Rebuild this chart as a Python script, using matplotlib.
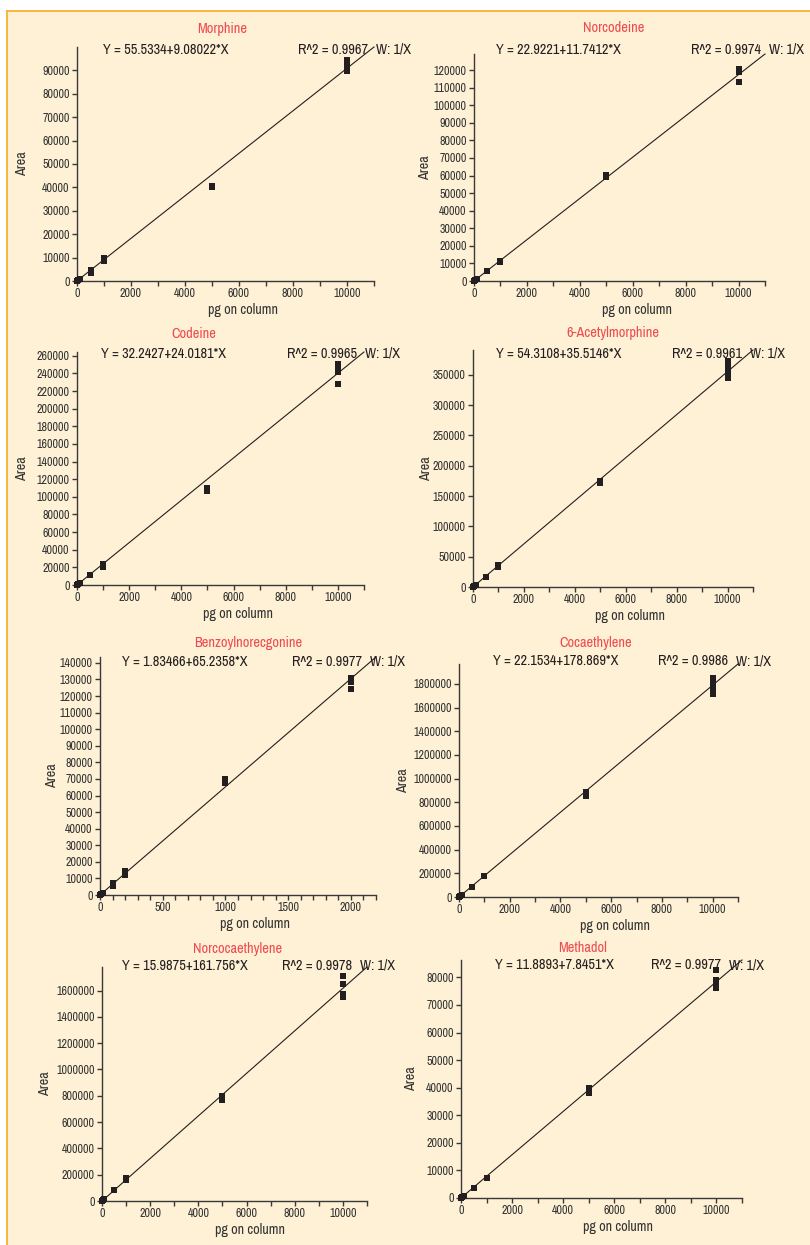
import matplotlib.pyplot as plt
from matplotlib import font_manager
from matplotlib.ticker import MultipleLocator, FuncFormatter
from matplotlib.lines import Line2D
from matplotlib.patches import Rectangle

W, H = 810, 1245

# pick a narrow face if one is installed, else Liberation Sans
narrow = [f for f in font_manager.fontManager.ttflist
          if ('Narrow' in f.name or 'Condensed' in f.name) and f.style == 'normal'
          and f.weight in (400, 'normal')]
if narrow:
    FONT = font_manager.FontProperties(fname=narrow[0].fname)
else:
    FONT = font_manager.FontProperties(family='Liberation Sans')

# calibration data
compounds = ['Morphine', 'Norcodeine', 'Codeine', '6-Acetylmorphine',
             'Benzoylnorecgonine', 'Cocaethylene', 'Norcocaethylene', 'Methadol']
intercepts = ['55.5334', '22.9221', '32.2427', '54.3108',
              '1.83466', '22.1534', '15.9875', '11.8893']
slopes = ['9.08022', '11.7412', '24.0181', '35.5146',
          '65.2358', '178.869', '161.756', '7.8451']
r_squared = ['0.9967', '0.9974', '0.9965', '0.9961',
             '0.9977', '0.9986', '0.9978', '0.9977']
x_max = [11000, 11000, 11000, 11000, 2200, 11000, 11000, 11000]

morphine_x = [10, 10, 50, 50, 100, 100, 500, 500, 1000, 1000, 5000, 5000, 10000, 10000, 10000]
morphine_y = [120, 90, 480, 430, 950, 880, 3500, 4500, 8600, 9800, 40000, 40600, 89500, 92000, 94300]

norcodeine_x = [10, 50, 100, 100, 500, 1000, 1000, 5000, 5000, 10000, 10000, 10000]
norcodeine_y = [130, 600, 1150, 1250, 5700, 10600, 11100, 59000, 60400, 113000, 118800, 120600]

codeine_x = [10, 50, 100, 100, 500, 1000, 1000, 5000, 5000, 10000, 10000, 10000, 10000]
codeine_y = [260, 1250, 2400, 2500, 11000, 20000, 23300, 106800, 109600, 227500, 241000, 246000, 250500]

acetylmorphine_x = [10, 50, 100, 100, 500, 1000, 1000, 5000, 5000, 10000, 10000, 10000, 10000]
acetylmorphine_y = [380, 1800, 3600, 3800, 16000, 33500, 37000, 170800, 174500, 344000, 352000, 362000, 372000]

benzoyl_x = [2, 10, 20, 20, 100, 100, 200, 200, 1000, 1000, 2000, 2000, 2000]
benzoyl_y = [150, 650, 1300, 1350, 5500, 7000, 11900, 14300, 67800, 70000, 124200, 128600, 131000]

cocaethylene_x = [10, 50, 100, 100, 500, 1000, 1000, 5000, 5000, 10000, 10000, 10000, 10000]
cocaethylene_y = [1800, 9000, 17500, 18500, 82000, 174000, 180000, 852000, 890000,
                  1717000, 1760000, 1800000, 1850000]

norcoca_x = [10, 50, 100, 100, 500, 1000, 1000, 5000, 5000, 10000, 10000, 10000, 10000]
norcoca_y = [1600, 8000, 16000, 17000, 84000, 160000, 174000, 770000, 800000,
             1550000, 1575000, 1653000, 1712000]

methadol_x = [10, 50, 100, 100, 500, 1000, 1000, 5000, 5000, 10000, 10000, 10000, 10000]
methadol_y = [80, 400, 780, 820, 3600, 7100, 7400, 38000, 40000, 76200, 77600, 78900, 82700]

points = [(morphine_x, morphine_y), (norcodeine_x, norcodeine_y),
          (codeine_x, codeine_y), (acetylmorphine_x, acetylmorphine_y),
          (benzoyl_x, benzoyl_y), (cocaethylene_x, cocaethylene_y),
          (norcoca_x, norcoca_y), (methadol_x, methadol_y)]

# layout in pixels: axes (left, right, top, bottom)
axes_px = [(77, 374, 47, 281), (474, 765, 54, 281),
           (77, 364, 352, 585), (473, 753, 350, 587),
           (100, 376, 657, 895), (459, 738, 664, 897),
           (102, 367, 967, 1201), (461, 742, 960, 1198)]
title_px = [(222, 29), (614, 28), (194, 334), (613, 333),
            (248, 643), (596, 643), (238, 949), (583, 948)]
eq_px = [(103, 50), (496, 50), (101, 354), (496, 354),
         (122, 662), (493, 661), (122, 966), (495, 965)]
r2_x = [298, 691, 287, 672, 292, 658, 282, 651]
ylab_off = [55, 49, 55, 47, 48, 56, 57, 50]
y_step = [10000, 10000, 20000, 50000, 10000, 200000, 200000, 10000]
x_major = [2000, 2000, 2000, 2000, 500, 2000, 2000, 2000]
x_minor = [1000, 1000, 1000, 1000, 100, 1000, 1000, 1000]

INK = '#231f20'
AXC = '#3b3838'
RED = '#ef4a50'
CREAM = '#fef1d5'
ORANGE = '#f8b133'


def fx(x):
    return x / W


def fy(y):
    return 1 - y / H


def font(size):
    f = FONT.copy()
    f.set_size(size)
    return f


plain = FuncFormatter(lambda v, p: '%d' % round(v))

fig = plt.figure(figsize=(W / 100, H / 100), dpi=100, facecolor='white')
fig.patches.append(Rectangle((fx(7), 0), 1 - fx(7), fy(11), transform=fig.transFigure,
                             facecolor=CREAM, edgecolor='none', zorder=-5))
fig.lines.append(Line2D([fx(6.5), 1], [fy(10.5), fy(10.5)], transform=fig.transFigure,
                        color=ORANGE, lw=1.3, zorder=-4))
fig.lines.append(Line2D([fx(6.5), fx(6.5)], [0, fy(10.5)], transform=fig.transFigure,
                        color=ORANGE, lw=1.3, zorder=-4))

for i, name in enumerate(compounds):
    l, r, t, b = axes_px[i]
    ax = fig.add_axes([fx(l), fy(b), (r - l) / W, (b - t) / H])
    ax.set_facecolor('none')
    a = float(intercepts[i])
    k = float(slopes[i])
    xm = x_max[i]

    ax.plot([0, xm], [a, a + k * xm], color=INK, lw=0.8, clip_on=False, zorder=2)
    px, py = points[i]
    ax.plot(px, py, ls='none', marker='s', ms=4.6, mew=0, color=INK,
            clip_on=False, zorder=3)

    ax.set_xlim(0, xm)
    ax.set_ylim(0, a + k * xm)
    for s in ['top', 'right']:
        ax.spines[s].set_visible(False)
    for s in ['left', 'bottom']:
        ax.spines[s].set_color(AXC)
        ax.spines[s].set_linewidth(1.0)
    ax.xaxis.set_major_locator(MultipleLocator(x_major[i]))
    ax.xaxis.set_minor_locator(MultipleLocator(x_minor[i]))
    ax.yaxis.set_major_locator(MultipleLocator(y_step[i]))
    ax.xaxis.set_major_formatter(plain)
    ax.yaxis.set_major_formatter(plain)
    ax.tick_params(which='both', direction='out', length=3.8, width=1.0, color=AXC,
                   labelcolor='#333333', pad=1.5)
    for lab in ax.get_xticklabels() + ax.get_yticklabels():
        lab.set_fontproperties(font(8.6))

    ax.set_xlabel('pg on column', fontproperties=font(10.2), color='#333333')
    ax.xaxis.set_label_coords(0.56, -29 / (b - t))
    ax.set_ylabel('Area', fontproperties=font(10.2), color='#333333')
    ax.yaxis.set_label_coords(-ylab_off[i] / (r - l), 0.5)
    ax.xaxis.label.set_va('center')
    ax.yaxis.label.set_va('center')

    tx, ty = title_px[i]
    fig.text(fx(tx), fy(ty), name, color=RED, fontproperties=font(10.3),
             ha='center', va='center')
    ex, ey = eq_px[i]
    fig.text(fx(ex), fy(ey), 'Y = ' + intercepts[i] + '+' + slopes[i] + '*X',
             color=INK, fontproperties=font(10.3), ha='left', va='center')
    fig.text(fx(r2_x[i]), fy(ey), 'R^2 = ' + r_squared[i],
             color=INK, fontproperties=font(10.3), ha='left', va='center')
    fig.text(fx(r2_x[i] + 78), fy(ey), 'W: 1/X',
             color=INK, fontproperties=font(10.3), ha='left', va='center')

fig.savefig('out.png', dpi=100, facecolor='white')
